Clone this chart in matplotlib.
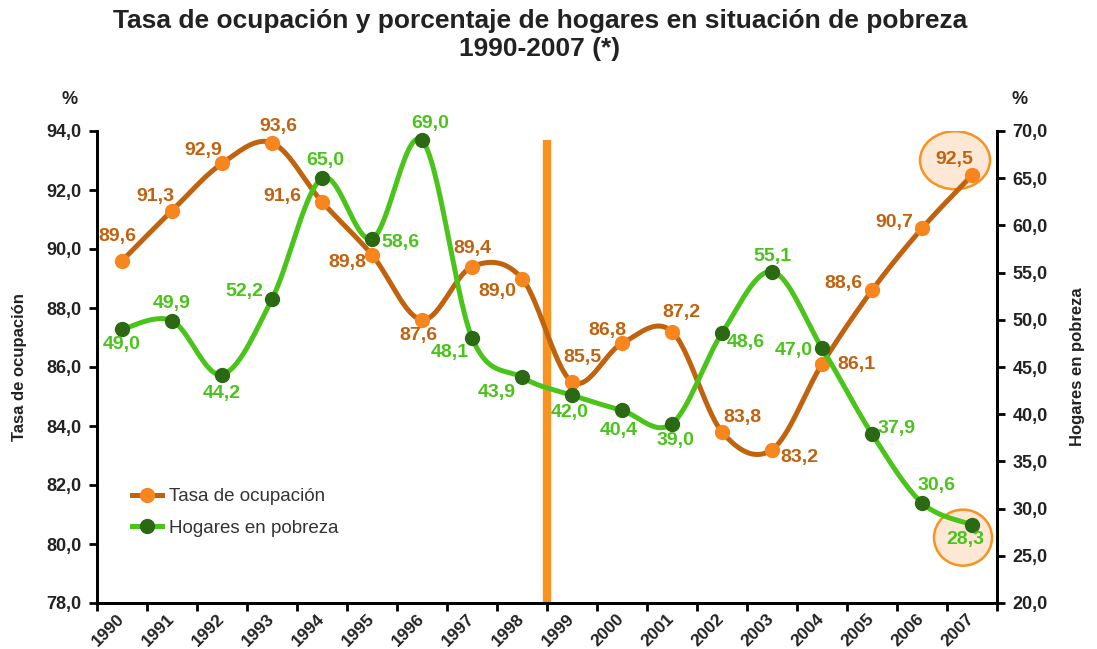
import numpy as np
import matplotlib
matplotlib.use("Agg")
import matplotlib.pyplot as plt
from matplotlib.lines import Line2D
from matplotlib.patches import Ellipse
from matplotlib.transforms import ScaledTranslation

plt.rcParams['font.family'] = ['Liberation Sans', 'DejaVu Sans']

years = [str(y) for y in range(1990, 2008)]
tasa = [89.6, 91.3, 92.9, 93.6, 91.6, 89.8, 87.6, 89.4, 89.0, 85.5, 86.8, 87.2,
        83.8, 83.2, 86.1, 88.6, 90.7, 92.5]
pobreza = [49.0, 49.9, 44.2, 52.2, 65.0, 58.6, 69.0, 48.1, 43.9, 42.0, 40.4, 39.0,
           48.6, 55.1, 47.0, 37.9, 30.6, 28.3]

# label offsets (pixels, +y up)
tasa_off = [(-5, 24), (-17, 14), (-19, 13), (6, 16), (-40, 5), (-25, -8), (-4, -16),
            (0, 18), (-25, -13), (10, 24), (-15, 13), (9, 19), (20, 14), (27, -8),
            (34, 0), (-29, 7), (-28, 6), (-18, 16)]
pob_off = [(0, -15), (0, 17), (0, -19), (-28, 8), (3, 18), (28, -4), (8, 17),
           (-22, -15), (-25, -15), (-2, -17), (-3, -20), (3, -17), (24, -9), (0, 15),
           (-28, -2), (25, 6), (15, 17), (-7, -15)]

C_OR_LINE = '#c1620f'
C_OR_MARK = '#f7861f'
C_GR_LINE = '#4ac41b'
C_GR_MARK = '#2b6a13'
C_BAR = '#f7931e'
C_TXT = '#222222'


def catmull(xs, ys, n=30):
    xs = np.asarray(xs, float)
    ys = np.asarray(ys, float)
    P = np.column_stack([xs, ys])
    P = np.vstack([P[0], P, P[-1]])
    out = []
    t = np.linspace(0, 1, n)
    for i in range(1, len(P) - 2):
        p0, p1, p2, p3 = P[i - 1], P[i], P[i + 1], P[i + 2]
        c1 = p1 + (p2 - p0) / 6.0
        c2 = p2 - (p3 - p1) / 6.0
        seg = ((1 - t) ** 3)[:, None] * p1 + (3 * (1 - t) ** 2 * t)[:, None] * c1 + \
              (3 * (1 - t) * t ** 2)[:, None] * c2 + (t ** 3)[:, None] * p2
        out.append(seg if i == 1 else seg[1:])
    s = np.vstack(out)
    return s[:, 0], s[:, 1]


fig = plt.figure(figsize=(10.97, 6.49), dpi=100)
ax = fig.add_axes([97 / 1097, 1 - 603 / 649, 900 / 1097, 472 / 649])
ax2 = ax.twinx()

x = np.arange(len(years))
ax.set_xlim(-0.5, len(years) - 0.5)
ax.set_ylim(78, 94)
ax2.set_ylim(20, 70)

# vertical bar
ax.axvline(8.5, ymin=0, ymax=(93.7 - 78) / 16, color=C_BAR, lw=6, zorder=1, solid_capstyle='butt')

sx, sy = catmull(x, tasa)
ax.plot(sx, sy, color=C_OR_LINE, lw=3.6, zorder=3, solid_capstyle='round')
ax.plot(x, tasa, 'o', color=C_OR_MARK, ms=10, mec=C_OR_MARK, zorder=4)

sx2, sy2 = catmull(x, pobreza)
ax2.plot(sx2, sy2, color=C_GR_LINE, lw=3.6, zorder=3, solid_capstyle='round')
ax2.plot(x, pobreza, 'o', color=C_GR_MARK, ms=10, mec=C_GR_MARK, zorder=4)

k = 72 / 100.0
for i, v in enumerate(tasa):
    dx, dy = tasa_off[i]
    ax.annotate(f"{v:.1f}".replace('.', ','), (x[i], v), xytext=(dx * k, dy * k),
                textcoords='offset points', ha='center', va='center',
                color=C_OR_LINE, fontsize=14, fontweight='bold', zorder=6)
for i, v in enumerate(pobreza):
    dx, dy = pob_off[i]
    ax2.annotate(f"{v:.1f}".replace('.', ','), (x[i], v), xytext=(dx * k, dy * k),
                 textcoords='offset points', ha='center', va='center',
                 color=C_GR_LINE, fontsize=14, fontweight='bold', zorder=6)

# highlight ellipses around last labels
tr1 = fig.dpi_scale_trans + ScaledTranslation(x[-1], tasa[-1], ax.transData)
ax.add_patch(Ellipse((-17 / 100, 15 / 100), 70 / 100, 58 / 100, transform=tr1,
                     facecolor='#fce8d5', edgecolor=C_BAR, lw=1.8, zorder=2))
tr2 = fig.dpi_scale_trans + ScaledTranslation(x[-1], pobreza[-1], ax2.transData)
ax2.add_patch(Ellipse((-9 / 100, -13 / 100), 58 / 100, 56 / 100, transform=tr2,
                      facecolor='#fce8d5', edgecolor=C_BAR, lw=1.8, zorder=2))

# axes styling
for a in (ax, ax2):
    a.spines['top'].set_visible(False)
    for s in ('left', 'right', 'bottom'):
        a.spines[s].set_linewidth(2)
        a.spines[s].set_color('black')

ax.set_yticks(np.arange(78, 94.1, 2))
ax.set_yticklabels([f"{v:.1f}".replace('.', ',') for v in np.arange(78, 94.1, 2)],
                   fontsize=13, fontweight='bold', color=C_TXT)
ax2.set_yticks(np.arange(20, 70.1, 5))
ax2.set_yticklabels([f"{v:.1f}".replace('.', ',') for v in np.arange(20, 70.1, 5)],
                    fontsize=13, fontweight='bold', color=C_TXT)
ax.tick_params(axis='y', length=6, width=2, pad=5)
ax2.tick_params(axis='y', length=6, width=2, pad=5)

ax.set_xticks(x)
ax.set_xticklabels(years, rotation=45, ha='right', va='center', rotation_mode='anchor',
                   fontsize=12.5, fontweight='bold', color=C_TXT)
ax.tick_params(axis='x', which='major', length=0, pad=10)
ax.set_xticks(np.arange(-0.5, len(years), 1), minor=True)
ax.tick_params(axis='x', which='minor', length=6, width=2)

ax.set_ylabel("Tasa de ocupación", fontsize=12, fontweight='bold', color=C_TXT, labelpad=14)
ax2.set_ylabel("Hogares en pobreza", fontsize=12, fontweight='bold', color=C_TXT,
               rotation=90, labelpad=16)

fig.text(70 / 1097, 1 - 100 / 649, "%", fontsize=13, fontweight='bold', color=C_TXT,
         ha='center', va='center')
fig.text(1020 / 1097, 1 - 100 / 649, "%", fontsize=13, fontweight='bold', color=C_TXT,
         ha='center', va='center')

fig.text(540 / 1097, 1 - 9 / 649,
         "Tasa de ocupación y porcentaje de hogares en situación de pobreza\n1990-2007 (*)",
         fontsize=19, fontweight='bold', color=C_TXT, ha='center', va='top', linespacing=1.2)

handles = [
    Line2D([0], [0], color=C_OR_LINE, lw=3.6, marker='o', ms=10, mfc=C_OR_MARK, mec=C_OR_MARK),
    Line2D([0], [0], color=C_GR_LINE, lw=3.6, marker='o', ms=10, mfc=C_GR_MARK, mec=C_GR_MARK),
]
leg = ax2.legend(handles, ["Tasa de ocupación", "Hogares en pobreza"], loc='lower left',
                 bbox_to_anchor=(0.02, 0.105), frameon=False, fontsize=13.5, handlelength=1.6,
                 handletextpad=0.4, labelspacing=0.75)
for t in leg.get_texts():
    t.set_color('#333333')

fig.savefig("out.png", dpi=100)
